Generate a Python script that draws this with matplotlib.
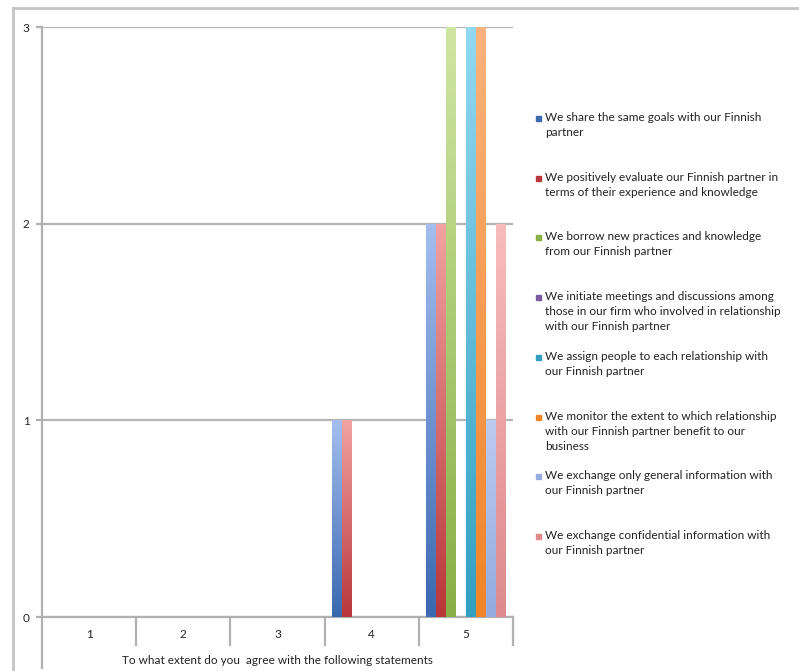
import numpy as np
import matplotlib
matplotlib.use('Agg')
import matplotlib.pyplot as plt
from matplotlib.lines import Line2D
from matplotlib.colors import LinearSegmentedColormap

plt.rcParams['font.family'] = ['Lato', 'DejaVu Sans']

### data
categories = ['1', '2', '3', '4', '5']
s_goals = [0, 0, 0, 1, 2]
s_evaluate = [0, 0, 0, 1, 2]
s_borrow = [0, 0, 0, 0, 3]
s_initiate = [0, 0, 0, 0, 0]
s_assign = [0, 0, 0, 0, 3]
s_monitor = [0, 0, 0, 0, 3]
s_general = [0, 0, 0, 0, 1]
s_confidential = [0, 0, 0, 0, 2]

labels = [
    'We share the same goals with our Finnish\npartner',
    'We positively evaluate our Finnish partner in\nterms of their experience and knowledge',
    'We borrow new practices and knowledge\nfrom our Finnish partner',
    'We initiate meetings and discussions among\nthose in our firm who involved in relationship\nwith our Finnish partner',
    'We assign people to each relationship with\nour Finnish partner',
    'We monitor the extent to which relationship\nwith our Finnish partner benefit to our\nbusiness',
    'We exchange only general information with\nour Finnish partner',
    'We exchange confidential information with\nour Finnish partner',
]
xlabel = 'To what extent do you  agree with the following statements'

series = [s_goals, s_evaluate, s_borrow, s_initiate, s_assign, s_monitor, s_general, s_confidential]
# (bottom colour, top colour) for the gradient fill
colors = [
    ('#3a69b0', '#a4bdee'),
    ('#b9373a', '#f2a2a2'),
    ('#89af46', '#cfe6a2'),
    ('#7b5ca3', '#b9a3d6'),
    ('#33a0c1', '#92d8f2'),
    ('#f08428', '#fbb27c'),
    ('#94abdf', '#bccbef'),
    ('#de8a8c', '#f8bcbc'),
]

W, H = 799, 671
fig = plt.figure(figsize=(W / 100, H / 100), dpi=100)
fig.patch.set_facecolor('white')

# window-like frame
fig.add_artist(Line2D([13 / W, 13 / W], [0, 1 - 8 / H], color='#c4c4c4', lw=2))
fig.add_artist(Line2D([13 / W, 1], [1 - 8 / H, 1 - 8 / H], color='#c4c4c4', lw=2))

left, right, top, bottom = 42, 513, 27, 617
ax = fig.add_axes([left / W, 1 - bottom / H, (right - left) / W, (bottom - top) / H])

x = np.arange(len(categories))
n = len(series)
bw = 0.106
for i, vals in enumerate(series):
    bars = ax.bar(x + (i - (n - 1) / 2) * bw, vals, width=bw, color=colors[i][0], lw=0, zorder=2)
    cmap = LinearSegmentedColormap.from_list('g%d' % i, [colors[i][0], colors[i][1]])
    grad = np.linspace(0, 1, 100).reshape(-1, 1)
    for b in bars:
        h = b.get_height()
        if h <= 0:
            continue
        x0 = b.get_x()
        im = ax.imshow(grad, cmap=cmap, origin='lower', aspect='auto',
                       extent=[x0, x0 + b.get_width(), 0, h], zorder=3)
        im.set_clip_path(b)

ax.set_xlim(-0.5, len(categories) - 0.5)
ax.set_ylim(0, 3)
ax.set_yticks([0, 1, 2, 3])
ax.grid(axis='y', color='#b5b5b5', lw=1.6, zorder=1)
ax.set_axisbelow(True)

for s in ['top', 'right', 'left']:
    ax.spines[s].set_visible(False)
ax.spines['bottom'].set_color('#b0b0b0')
ax.spines['bottom'].set_linewidth(1.6)

ax.set_xticks(x)
ax.set_xticklabels(categories, fontsize=8.5, color='#222222')
ax.tick_params(axis='x', length=0, pad=9)
ax.tick_params(axis='y', length=4, width=1.6, color='#b0b0b0', labelsize=8.5, labelcolor='#222222', pad=5)

# y axis line running below the plot, and category separators
ax_h = bottom - top
ax.add_line(Line2D([0, 0], [1, -(668 - bottom) / ax_h], transform=ax.transAxes,
                   color='#b0b0b0', lw=1.6, clip_on=False))
for k in range(1, len(categories) + 1):
    ax.add_line(Line2D([k - 0.5, k - 0.5], [0, -(645 - bottom) / ax_h],
                       transform=ax.get_xaxis_transform(), color='#b0b0b0', lw=1.6, clip_on=False))

ax.set_xlabel(xlabel, fontsize=8.5, color='#222222')
ax.xaxis.set_label_coords(0.5, -(660 - bottom) / ax_h)
ax.xaxis.label.set_va('center')

### legend (manual)
y0, step = 118, 59.7
for i, lab in enumerate(labels):
    yc = y0 + i * step
    fig.patches.append(plt.Rectangle((536 / W, 1 - (yc + 3) / H), 5 / W, 5 / H,
                                     transform=fig.transFigure, color=colors[i][0], figure=fig))
    fig.text(545 / W, 1 - (yc - 6) / H, lab, fontsize=8.5, va='top', ha='left',
             color='#222222', linespacing=1.45)

fig.savefig('out.png', dpi=100, facecolor='white')
